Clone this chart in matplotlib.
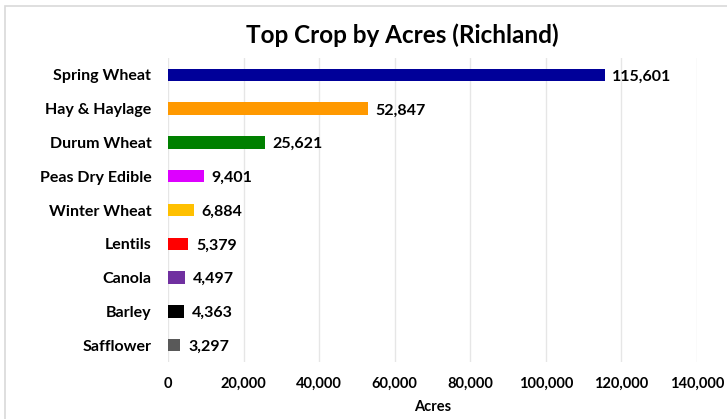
import matplotlib
matplotlib.use("Agg")
import matplotlib.pyplot as plt
from matplotlib.patches import Rectangle

crops = ["Spring Wheat", "Hay & Haylage", "Durum Wheat", "Peas Dry Edible", "Winter Wheat",
         "Lentils", "Canola", "Barley", "Safflower"]
acres = [115601, 52847, 25621, 9401, 6884, 5379, 4497, 4363, 3297]
colors = ["#000099", "#FF9900", "#008000", "#DD00FF", "#FFC000", "#FF0000", "#7030A0", "#000000", "#595959"]
xticks = [0, 20000, 40000, 60000, 80000, 100000, 120000, 140000]

plt.rcParams["font.family"] = ["Lato", "DejaVu Sans"]

fig = plt.figure(figsize=(7.27, 4.19), dpi=100)
fig.patches.append(Rectangle((5/727, -0.1), 1.2, 1 - 6/419 + 0.1, transform=fig.transFigure,
                             fill=False, edgecolor="#D9D9D9", linewidth=1.2))
ax = fig.add_axes([168/727, 1 - 362/419, (697 - 168)/727, (362 - 58)/419])

y = list(range(len(crops)))
ax.barh(y, acres, height=0.37, color=colors, zorder=3)
for yi, v in zip(y, acres):
    ax.text(v + 2000, yi + 0.05, f"{v:,}", va="center", ha="left", fontsize=11.5, fontweight="bold", color="black")
ax.set_ylim(len(crops) - 0.5, -0.5)
ax.set_yticks(y)
ax.set_yticklabels(crops, fontsize=11.5, fontweight="bold")
ax.set_xlim(0, 140000)
ax.set_xticks(xticks)
ax.set_xticklabels([f"{t:,}" for t in xticks], fontsize=10.5, fontweight="bold")
ax.tick_params(length=0)
ax.tick_params(axis="x", pad=11)
ax.tick_params(axis="y", pad=12)
ax.grid(axis="x", color="#E6E6E6", linewidth=1, zorder=0)
for s in ax.spines.values():
    s.set_visible(False)
ax.set_xlabel("Acres", fontsize=10.5, fontweight="bold", labelpad=6)
fig.text(0.553, 1 - 35/419, "Top Crop by Acres (Richland)", ha="center", va="center",
         fontsize=17.5, fontweight="bold")
fig.savefig("out.png", dpi=100)
